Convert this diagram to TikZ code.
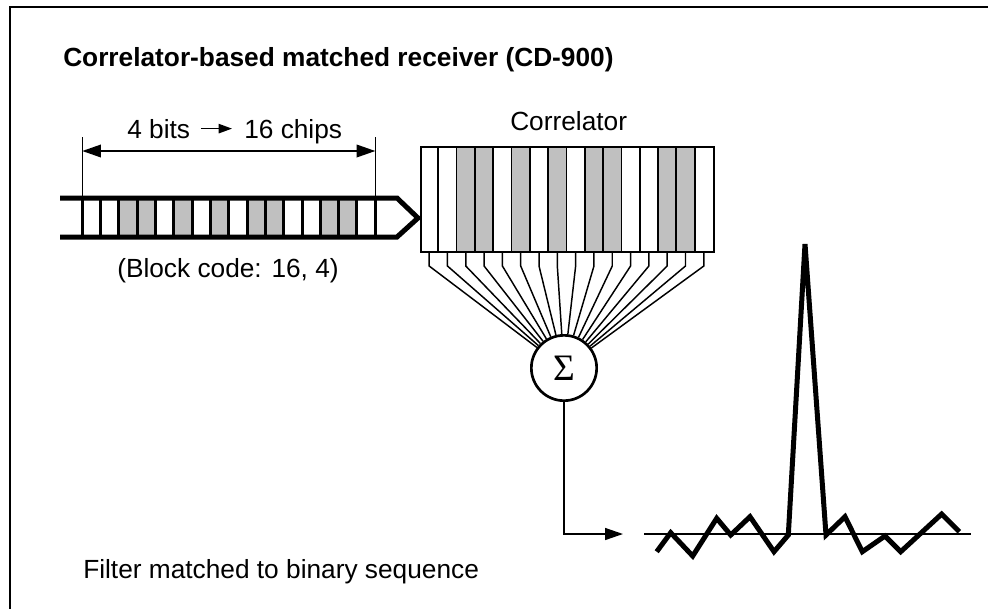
\documentclass[tikz,border=0pt]{standalone}
\usepackage{fontspec}
\setmainfont{Liberation Sans}
\newfontfamily\symserif{Liberation Serif}
\usetikzlibrary{arrows.meta}
\definecolor{chipgray}{HTML}{C0C0C0}
\begin{document}
\begin{tikzpicture}[x=0.75pt,y=-0.75pt,
  txt/.style={anchor=base west,inner sep=0pt,font=\fontsize{19.7}{23}\selectfont},
  titletxt/.style={txt,font=\bfseries\fontsize{19.7}{23}\selectfont},
  frameline/.style={line width=1.9pt},
  tapeedge/.style={line width=3.75pt},
  tapecell/.style={line width=2.25pt},
  corrline/.style={line width=1.3pt},
  fanline/.style={line width=1.1pt},
  thinline/.style={line width=1.1pt},
  wave/.style={line width=3.75pt},
  dimtip/.tip={Triangle[length=14pt,width=9.5pt]},
  outtip/.tip={Triangle[length=13.5pt,width=9pt]},
  txttip/.tip={Triangle[length=10pt,width=7pt]}]
\useasboundingbox (0,0) rectangle (988,608);
\clip (0,0) rectangle (988,608);

% outer frame (runs off the right and bottom edges)
\draw[frameline] (10,7) rectangle (1000,620);

% title
\node[titletxt] (title) at (63,66) {Correlator-based matched receiver (CD-900)};

% incoming chip stream: 16 chips
\foreach \i in {2,3,5,7,9,10,13,14}
  \fill[chipgray] ({82.3+\i*18.31},198) rectangle ({82.3+(\i+1)*18.31},237);
\foreach \i in {0,...,16}
  \draw[tapecell] ({82.3+\i*18.31},198) -- ({82.3+\i*18.31},237);
\draw[tapeedge] (60,198) -- (397,198) -- (418,218) -- (397,237) -- (60,237);

% length of the block
\coordinate (dimL) at (82.3,137);
\coordinate (dimR) at (375.3,137);
\draw[thinline] (dimL) -- (82.3,198);
\draw[thinline] (dimR) -- (375.3,198);
\draw[thinline,{dimtip}-{dimtip}] (82.3,151) -- (375.3,151);
\node[txt] (bits) at (127,138) {4 bits};
\node[txt] (chips) at (244,138) {16 chips};
\draw[thinline,-{txttip}] ([xshift=8pt]bits.east) -- ([xshift=-9pt]chips.west |- bits.east);

\node[txt] (block) at (117,277) {(Block code: 16, 4)};

% correlator register
\foreach \i in {2,3,5,7,9,10,13,14}
  \fill[chipgray] ({420+\i*18.31},146) rectangle ({420+(\i+1)*18.31},251);
\node[draw,corrline,anchor=north west,inner sep=0pt,
      minimum width=219.8pt,minimum height=78.75pt] (corr) at (420,146) {};
\foreach \i in {1,...,15}
  \draw[corrline] ({420+\i*18.31},146) -- ({420+\i*18.31},251);
\node[txt] (corrlabel) at (510,130) {Correlator};

% summing junction
\node[circle,draw,line width=2pt,minimum size=49pt,inner sep=0pt] (sum) at (564,368)
  {\symserif\fontsize{28}{28}\selectfont Σ};

% taps from every cell into the sum
\foreach \i in {0,...,15} {
  \coordinate (s\i) at ({420+(\i+0.5)*18.31},266);
  \draw[fanline] (s\i |- corr.south) -- (s\i) -- (sum);
}

% output to the correlation trace
\coordinate (bend) at (564,534);
\coordinate (plotin) at (623,534);
\draw[thinline,-{outtip}] (sum.south) -- (bend) -- (plotin);

% correlation output
\coordinate (axisL) at (644,534);
\coordinate (axisR) at (971,534);
\draw[thinline] (axisL) -- (axisR);
\draw[wave] plot coordinates {
  (656.7,551.7) (670.7,532.7) (692.7,556) (716.7,518.3) (730.7,535)
  (750,516.7) (774,551.7) (788.3,535) (805,244) (826,535) (845,516.7)
  (862.3,551.7) (885,536) (900.7,551.7) (941.7,514) (959.3,531.7)};

\node[txt] (caption) at (83,578) {Filter matched to binary sequence};
\end{tikzpicture}
\end{document}
